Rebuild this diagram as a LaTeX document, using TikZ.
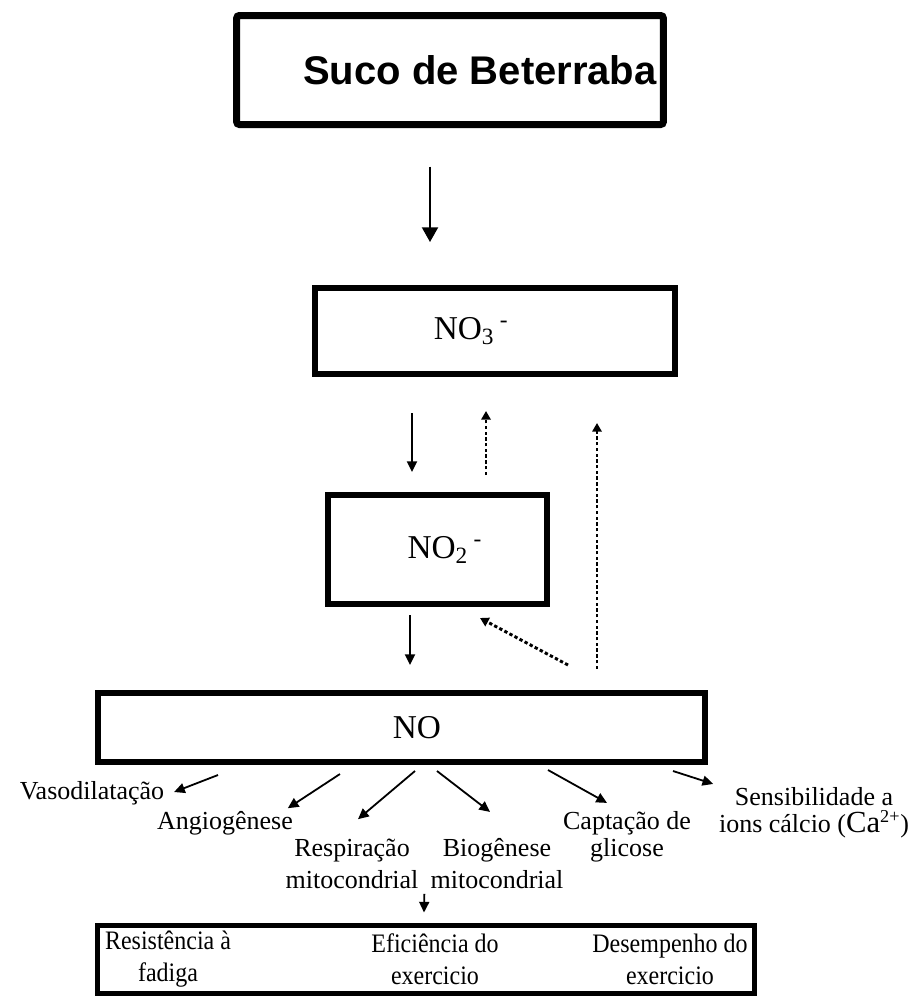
\documentclass[tikz,border=0pt]{standalone}
\usepackage{fontspec}
\setmainfont{Liberation Serif}
\setsansfont{Liberation Sans}
\newfontfamily\efffont{Liberation Serif}[FakeStretch=0.9]
\usetikzlibrary{arrows.meta,positioning}

\begin{document}
\begin{tikzpicture}[
    x=0.75pt, y=-0.75pt,
    juice/.style={rectangle, draw=black, line width=5.25pt, rounded corners=2pt,
                  minimum width=320pt, minimum height=81.75pt, inner sep=0pt,
                  font=\sffamily\bfseries\fontsize{30}{36}\selectfont},
    ion/.style={rectangle, draw=black, line width=4.5pt, inner sep=0pt,
                font=\fontsize{25}{28}\selectfont},
    effbox/.style={rectangle, draw=black, line width=3.75pt, inner sep=0pt,
                   minimum width=492.75pt, minimum height=51pt},
    lbl/.style={align=center, inner sep=2pt, font=\fontsize{19.5}{20}\selectfont},
    efftxt/.style={align=center, inner sep=0pt, font=\efffont\fontsize{20}{24}\selectfont},
    bigarr/.style={-{Triangle[length=11pt,width=12pt]}, line width=1.5pt},
    arr/.style={-{Triangle[length=8pt,width=7.5pt]}, line width=1.35pt},
    darr/.style={-{Triangle[length=6.5pt,width=7pt]}, line width=2.2pt,
                 dash pattern=on 2.5pt off 1.8pt}
]
\useasboundingbox (0,0) rectangle (920,997);

% Boxes
\node[juice] (suco) at (450,70) {\hspace*{45pt}Suco de Beterraba};
\node[ion, minimum width=270pt, minimum height=64.5pt] (no3) at (495,331)
    {NO\textsubscript{3}\,\textsuperscript{-}\hspace*{36pt}};
\node[ion, minimum width=164.25pt, minimum height=81.75pt] (no2) at (437.5,549.5)
    {\hspace*{11pt}NO\textsubscript{2}\,\textsuperscript{-}};
\node[ion, minimum width=455.25pt, minimum height=51.75pt] (no) at (401.5,727.5)
    {\hspace*{23pt}NO};

% Effects of NO
\node[lbl] (vaso) at (92,793) {Vasodilatação};
\node[lbl] (angio) at (225,823) {Angiogênese};
\node[lbl] (resp) at (352,864) {Respiração\\[4pt]mitocondrial};
\node[lbl] (bio) at (497,864) {Biogênese\\[4pt]mitocondrial};
\node[lbl] (capt) at (627,837) {Captação de\\glicose};
\node[lbl] (sens) at (814,813)
    {Sensibilidade a\\ions cálcio ({\fontsize{23}{20}\selectfont Ca}\textsuperscript{2+})};

% Outcome box
\node[effbox] (eff) at (426,959) {};
\node[efftxt] (fad) at (168,959) {Resistência à\\fadiga};
\node[efftxt] (efi) at (435,959) {Eficiência do\\exercicio};
\node[efftxt] (des) at (670,959) {Desempenho do\\exercicio};

% Arrows
\draw[bigarr] ([shift={(-20,38.5)}]suco.south) -- ([shift={(-65,-43)}]no3.north);
\draw[arr] ([shift={(-83,36)}]no3.south) -- ([shift={(-25.5,-20)}]no2.north);
\draw[darr] ([shift={(48.5,-17)}]no2.north) -- ([shift={(-9,34)}]no3.south);
\draw[arr] ([shift={(-27.5,8)}]no2.south) -- ([shift={(8.5,-25)}]no.north);
\draw[darr] ([shift={(166.5,-25)}]no.north) -- ([shift={(42.5,11)}]no2.south);
\draw[darr] ([shift={(195.5,-21)}]no.north) -- ([shift={(102,46)}]no3.south);

\draw[arr] ([shift={(-183.5,10)}]no.south) -- ([shift={(7,-1)}]vaso.east);
\draw[arr] ([shift={(-61.5,9)}]no.south) -- ([shift={(-8,0)}]angio.north east);
\draw[arr] ([shift={(13.5,6)}]no.south) -- ([shift={(6,-17)}]resp.north);
\draw[arr] ([shift={(35.5,6)}]no.south) -- ([shift={(-7,-24)}]bio.north);
\draw[arr] ([shift={(146.5,5)}]no.south) -- ([shift={(-20,-6)}]capt.north);
\draw[arr] ([shift={(271.5,6)}]no.south) -- ([shift={(-3,-1)}]sens.north west);
\draw[arr] ([shift={(3,2)}]resp.south east) -- ([shift={(-2,-10)}]eff.north);

\end{tikzpicture}
\end{document}
